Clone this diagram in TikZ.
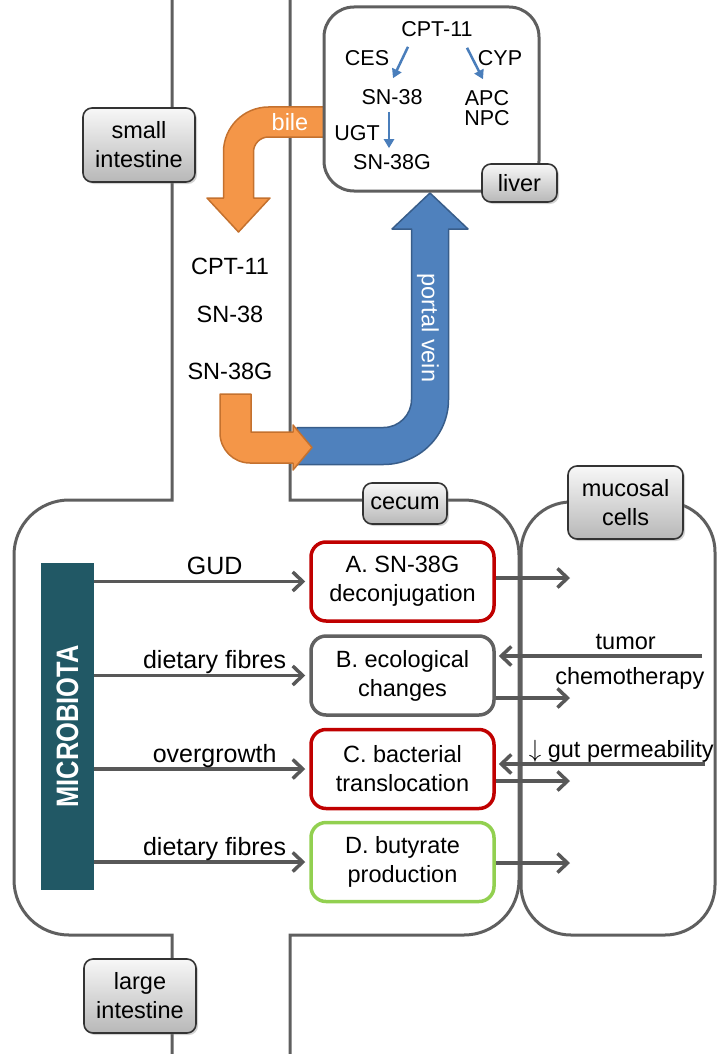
\documentclass[tikz,border=0pt]{standalone}
\usepackage{fontspec}
\setmainfont{Liberation Sans}
\usetikzlibrary{arrows.meta, shadows, positioning}

\definecolor{lineGray}{RGB}{95,95,95}
\definecolor{arrGray}{RGB}{88,88,88}
\definecolor{micTeal}{RGB}{33,88,101}
\definecolor{bileOrange}{RGB}{244,150,72}
\definecolor{bileEdge}{RGB}{196,113,46}
\definecolor{veinBlue}{RGB}{79,129,189}
\definecolor{veinEdge}{RGB}{56,93,138}
\definecolor{liverArr}{RGB}{74,126,187}
\definecolor{boxRed}{RGB}{192,0,0}
\definecolor{boxGreen}{RGB}{146,208,80}

\tikzset{
  txt/.style={inner sep=2pt, text=black, font=\fontsize{23.5}{29}\selectfont},
  livtxt/.style={inner sep=2pt, font=\fontsize{21.5}{25}\selectfont},
  gutlabel/.style={txt, draw=black!80, line width=1.6pt, rounded corners=9pt,
    top color=black!3, bottom color=black!28, align=center,
    drop shadow={shadow xshift=2pt, shadow yshift=-2pt, opacity=0.35}},
  stage/.style={txt, draw, line width=3.5pt, rounded corners=15pt, fill=white,
    minimum width=183pt, minimum height=79pt, align=center},
  flowlbl/.style={txt, anchor=base, yshift=7pt},
  garr/.style={arrGray, line width=3.5pt, -{Straight Barb[length=10pt,width=19pt]}},
  larr/.style={liverArr, line width=2.5pt, -{Triangle[length=9pt,width=10pt]}},
  micbar/.style={fill=micTeal, minimum width=53pt, minimum height=327pt, inner sep=0pt,
    text=white, font=\bfseries\fontsize{31}{31}\selectfont},
  tube/.style={lineGray, line width=3pt},
  fatarrow/.style={line width=1.5pt, line join=round},
}

\begin{document}
\begin{tikzpicture}[x=1pt, y=1pt]
  \useasboundingbox (0,0) rectangle (717,-1054);

  % gut outline
  \draw[tube] (172,0) -- (172,-500) -- (69,-500) arc[start angle=90,end angle=180,radius=55]
    -- (14,-880) arc[start angle=180,end angle=270,radius=55] -- (172,-935) -- (172,-1054);
  \draw[tube] (290,0) -- (290,-500) -- (464,-500) arc[start angle=90,end angle=0,radius=55]
    -- (519,-880) arc[start angle=0,end angle=-90,radius=55] -- (290,-935) -- (290,-1054);
  \draw[tube, rounded corners=50pt] (521,-502) rectangle (715,-935);

  % bile and portal vein
  \filldraw[fatarrow, fill=bileOrange, draw=bileEdge]
    (326,-107) -- (268.5,-107) arc[start angle=90,end angle=180,radius=45]
    -- (223.5,-198) -- (207,-198) -- (238.5,-232) -- (270,-198) -- (253.5,-198)
    -- (253.5,-152) arc[start angle=180,end angle=90,radius=15] -- (326,-137) -- cycle;
  \filldraw[fatarrow, fill=veinBlue, draw=veinEdge]
    (297,-427.5) -- (383.5,-427.5) arc[start angle=270,end angle=360,radius=28]
    -- (411.5,-229) -- (392,-229) -- (430,-193) -- (468,-229) -- (448.5,-229)
    -- (448.5,-399.5) arc[start angle=0,end angle=-90,radius=65] -- (297,-464.5) -- cycle;
  \filldraw[fatarrow, fill=bileOrange, draw=bileEdge]
    (220,-394) -- (251,-394) -- (251,-432) -- (293,-432) -- (293,-425) -- (312,-447.5)
    -- (293,-470) -- (293,-463) -- (250,-463) arc[start angle=270,end angle=180,radius=30] -- cycle;
  \node[txt, text=white] (bile) at (290,-122) {bile};
  \node[txt, text=white, rotate=-90] (vein) at (428,-328) {portal vein};

  % liver
  \draw[tube, fill=white, rounded corners=30pt] (324,-7) rectangle (539,-191);
  \node[livtxt] (cptL) at (437,-29) {CPT-11};
  \node[livtxt] (cesL) at (367,-58) {CES};
  \node[livtxt] (cypL) at (500,-58) {CYP};
  \node[livtxt] (snL) at (392,-97) {SN-38};
  \node[livtxt] (apcL) at (487,-98) {APC};
  \node[livtxt] (npcL) at (487,-118) {NPC};
  \node[livtxt] (ugtL) at (357,-133) {UGT};
  \node[livtxt] (sngL) at (392,-162) {SN-38G};
  \draw[larr] ([xshift=-29pt,yshift=-8pt]cptL.south) -- ([xshift=1pt,yshift=9pt]snL.north);
  \draw[larr] ([xshift=30pt,yshift=-9pt]cptL.south) -- ([xshift=-4pt,yshift=9pt]apcL.north);
  \draw[larr] ([xshift=-3pt,yshift=-5pt]snL.south) -- ([xshift=-3pt,yshift=4pt]sngL.north);
  \node[gutlabel, minimum width=75pt, minimum height=38pt] (liver) at (519.5,-183) {liver};

  % lumen
  \node[txt] (cptM) at (230,-266) {CPT-11};
  \node[txt] (snM) at (230,-314) {SN-38};
  \node[txt] (sngM) at (230,-371) {SN-38G};

  % labels
  \node[gutlabel, minimum width=112pt, minimum height=74pt] (smallI) at (139,-145) {small\\intestine};
  \node[gutlabel, minimum width=112pt, minimum height=74pt] (largeI) at (140,-996) {large\\intestine};
  \node[gutlabel, minimum width=84pt, minimum height=41pt] (cecum) at (405,-503.5) {cecum};
  \node[gutlabel, minimum width=115pt, minimum height=73pt] (mucosa) at (625.5,-502.5) {mucosal\\cells};

  % cecum
  \node[micbar] (micro) at (67.5,-726.5) {\rotatebox{90}{\scalebox{0.82}[1]{MICROBIOTA}}};
  \node[stage, draw=boxRed] (boxA) at (402.5,-581.5) {A. SN-38G\\deconjugation};
  \node[stage, draw=black!62] (boxB) at (402.5,-675.5) {B. ecological\\changes};
  \node[stage, draw=boxRed] (boxC) at (402.5,-769) {C. bacterial\\translocation};
  \node[stage, draw=boxGreen] (boxD) at (402.5,-862) {D. butyrate\\production};

  \draw[garr, shorten >=4pt] (micro.east |- boxA.west) -- node[flowlbl, pos=0.56, font=\fontsize{25}{29}\selectfont] {GUD} (boxA.west);
  \draw[garr, shorten >=4pt] (micro.east |- boxB.west) -- node[flowlbl, pos=0.56, font=\fontsize{25}{29}\selectfont] {dietary fibres} (boxB.west);
  \draw[garr, shorten >=4pt] (micro.east |- boxC.west) -- node[flowlbl, pos=0.56, font=\fontsize{25}{29}\selectfont] {overgrowth} (boxC.west);
  \draw[garr, shorten >=4pt] (micro.east |- boxD.west) -- node[flowlbl, pos=0.56, font=\fontsize{25}{29}\selectfont] {dietary fibres} (boxD.west);

  % mucosa side
  \coordinate (outA) at (570,-578);
  \coordinate (outB) at (570,-698);
  \coordinate (outC) at (570,-781);
  \coordinate (outD) at (570,-863);
  \coordinate (inB) at (702,-656);
  \coordinate (inC) at (705,-764);
  \draw[garr] (boxA.east |- outA) -- (outA);
  \draw[garr] (boxB.east |- outB) -- (outB);
  \draw[garr] (boxC.east |- outC) -- (outC);
  \draw[garr] (boxD.east |- outD) -- (outD);
  \draw[garr, shorten >=3pt] (inB) -- node[flowlbl, pos=0.37] {tumor}
    node[txt, anchor=base, yshift=-28pt, pos=0.35] {chemotherapy} (boxB.east |- inB);
  \draw[garr, shorten >=3pt] (inC) -- node[flowlbl, pos=0.40] {$\downarrow$ gut permeability} (boxC.east |- inC);
\end{tikzpicture}
\end{document}
